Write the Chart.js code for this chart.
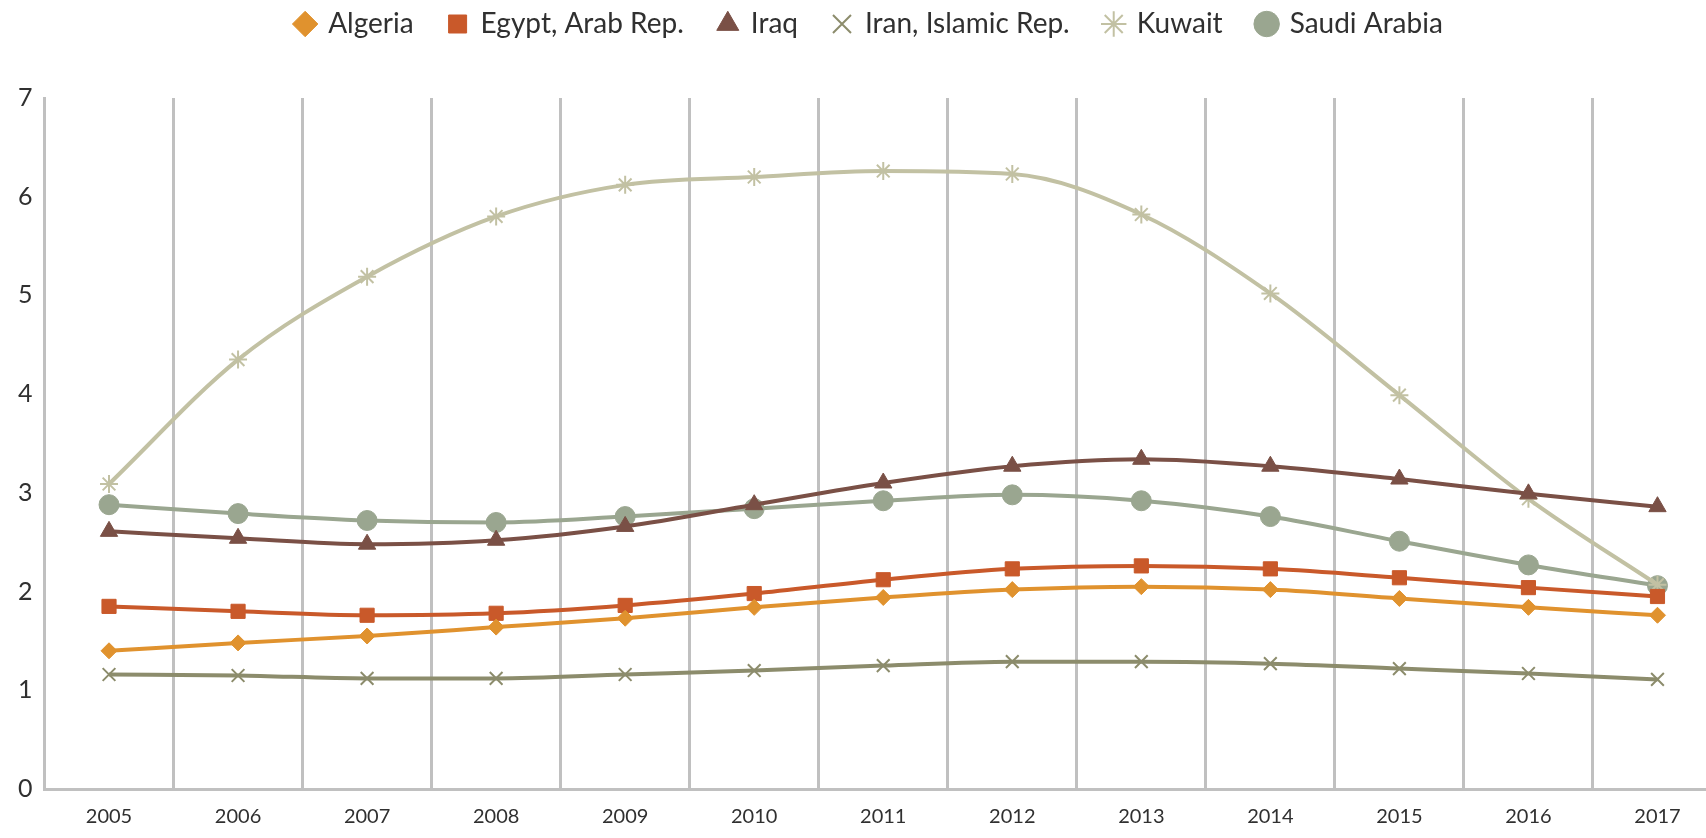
<!DOCTYPE html>
<html>
<head>
<meta charset="utf-8">
<script src="https://cdn.jsdelivr.net/npm/chart.js@4/dist/chart.umd.min.js"></script>
<style>
  html, body { margin: 0; padding: 0; background: #fff; overflow: hidden; }
  #wrap { width: 1733px; height: 838px; position: relative; }
</style>
</head>
<body>
<div id="wrap"><canvas id="chart1"></canvas></div>
<script>
var years = ["2005", "2006", "2007", "2008", "2009", "2010", "2011", "2012", "2013", "2014", "2015", "2016", "2017"];

var algeria = [1.40, 1.48, 1.55, 1.64, 1.73, 1.84, 1.94, 2.02, 2.05, 2.02, 1.93, 1.84, 1.76];
var egypt = [1.85, 1.80, 1.76, 1.78, 1.86, 1.98, 2.12, 2.23, 2.26, 2.23, 2.14, 2.04, 1.95];
var iraq = [2.61, 2.54, 2.48, 2.52, 2.66, 2.88, 3.10, 3.27, 3.34, 3.27, 3.14, 2.99, 2.86];
var iran = [1.16, 1.15, 1.12, 1.12, 1.16, 1.20, 1.25, 1.29, 1.29, 1.27, 1.22, 1.17, 1.11];
var kuwait = [3.09, 4.35, 5.19, 5.80, 6.12, 6.20, 6.26, 6.23, 5.82, 5.02, 3.99, 2.94, 2.07];
var saudi = [2.88, 2.79, 2.72, 2.70, 2.76, 2.84, 2.92, 2.98, 2.92, 2.76, 2.51, 2.27, 2.06];

var yTicks = [0, 1, 2, 3, 4, 5, 6, 7];

function makeSet(label, data, color, style, radius) {
  return {
    label: label,
    data: data,
    borderColor: color,
    backgroundColor: color,
    pointStyle: style,
    pointRadius: radius,
    pointBorderWidth: style == "crossRot" || style == "star" ? 2 : 1,
    borderWidth: 4,
    cubicInterpolationMode: "monotone",
  };
}

const dataChart1 = {
  labels: years,
  datasets: [
    makeSet("Algeria", algeria, "#e0922e", "rectRot", 8),
    makeSet("Egypt, Arab Rep.", egypt, "#c9592a", "rect", 10),
    makeSet("Iraq", iraq, "#7a5046", "triangle", 10),
    makeSet("Iran, Islamic Rep.", iran, "#8c8c6c", "crossRot", 9),
    makeSet("Kuwait", kuwait, "#c2c1a3", "star", 9),
    makeSet("Saudi Arabia", saudi, "#9aa690", "circle", 10),
  ],
};

// push the plot down under the legend like the original
const legendSpace = {
  id: "legendSpace",
  beforeInit: function(chart) {
    var fit = chart.legend.fit;
    chart.legend.fit = function() {
      fit.bind(chart.legend)();
      this.height = 123;
    };
  },
};

const configChart1 = {
  type: "line",
  data: dataChart1,
  plugins: [legendSpace],
  options: {
    responsive: true,
    maintainAspectRatio: false,
    animation: false,
    layout: { padding: { left: 6, right: 0, top: -25, bottom: 1 } },
    plugins: {
      legend: {
        display: true,
        position: "top",
        labels: {
          usePointStyle: true,
          boxWidth: 18,
          boxHeight: 18,
          padding: 35,
          color: "#303030",
          font: { family: "Lato", size: 28 },
        },
      },
      tooltip: { enabled: false },
    },
    scales: {
      x: {
        offset: true,
        afterFit: function(scale) { scale.height = 48; },
        grid: { display: true, offset: true, color: "#c0c0c0", lineWidth: 3, drawTicks: false },
        border: { display: true, color: "#c0c0c0", width: 3 },
        ticks: { color: "#303030", padding: 16, font: { family: "Lato", size: 20 } },
      },
      y: {
        min: 0,
        max: 7,
        afterBuildTicks: function(axis) {
          axis.ticks = yTicks.map(function(v) { return { value: v }; });
        },
        grid: { display: false, drawTicks: false },
        border: { display: true, color: "#c0c0c0", width: 3 },
        ticks: { color: "#303030", padding: 12, font: { family: "Lato", size: 25 } },
      },
    },
  },
};

var chart1 = new Chart(document.getElementById("chart1"), configChart1);
</script>
</body>
</html>
